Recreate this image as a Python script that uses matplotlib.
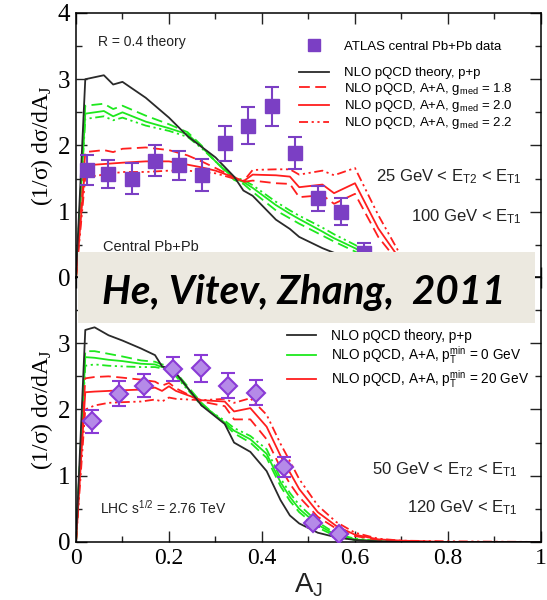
import numpy as np
import matplotlib
matplotlib.use('Agg')
import matplotlib.pyplot as plt
from matplotlib.patches import Rectangle
from matplotlib.lines import Line2D

plt.rcParams['font.family'] = ['Liberation Sans', 'DejaVu Sans']
plt.rcParams['mathtext.default'] = 'regular'

# ---- top panel: 25 GeV < ET2, 100 GeV < ET1 ----
x_top = [0, 0.02, 0.06, 0.08, 0.10, 0.15, 0.20, 0.24, 0.27, 0.30, 0.34, 0.36,
         0.38, 0.43, 0.46, 0.48, 0.53, 0.555, 0.60, 0.65, 0.70, 0.75, 0.80, 1.0]
pp_top = [0, 3.0, 3.06, 2.92, 2.96, 2.72, 2.42, 2.14, 1.98, 1.82, 1.53, 1.32,
          1.24, 0.88, 0.74, 0.62, 0.45, 0.38, 0.25, 0.12, 0.05, 0.02, 0.01, 0]
green18_top = [0, 2.60, 2.63, 2.55, 2.60, 2.45, 2.32, 2.20, 2.0, 1.76, 1.48, 1.42,
               1.30, 1.02, 0.90, 0.82, 0.64, 0.55, 0.40, 0.22, 0.10, 0.04, 0.01, 0]
green20_top = [0, 2.48, 2.52, 2.44, 2.50, 2.36, 2.26, 2.17, 1.98, 1.76, 1.50, 1.45,
               1.36, 1.10, 0.97, 0.89, 0.70, 0.60, 0.45, 0.25, 0.12, 0.05, 0.02, 0]
green22_top = [0, 2.40, 2.44, 2.38, 2.42, 2.30, 2.22, 2.13, 1.96, 1.76, 1.52, 1.48,
               1.40, 1.15, 1.02, 0.94, 0.76, 0.66, 0.50, 0.30, 0.15, 0.06, 0.02, 0]
red18_top = [0, 1.90, 1.93, 1.90, 1.95, 1.97, 1.93, 1.85, 1.76, 1.66, 1.52, 1.45,
             1.47, 1.43, 1.42, 1.22, 1.25, 1.12, 1.27, 0.62, 0.18, 0.06, 0.02, 0]
red20_top = [0, 1.70, 1.72, 1.73, 1.74, 1.76, 1.76, 1.71, 1.67, 1.62, 1.52, 1.46,
             1.56, 1.55, 1.53, 1.37, 1.41, 1.28, 1.43, 0.75, 0.25, 0.08, 0.02, 0]
red22_top = [0, 1.52, 1.56, 1.58, 1.60, 1.60, 1.62, 1.62, 1.60, 1.58, 1.50, 1.46,
             1.63, 1.64, 1.64, 1.56, 1.62, 1.55, 1.66, 0.95, 0.32, 0.12, 0.03, 0]

atlas_x_top = [0.024, 0.069, 0.121, 0.171, 0.221, 0.27, 0.32, 0.37, 0.421, 0.471, 0.52, 0.57, 0.62]
atlas_y_top = [1.63, 1.57, 1.50, 1.77, 1.70, 1.56, 2.03, 2.30, 2.59, 1.89, 1.20, 1.00, 0.38]
atlas_e_top = [0.22, 0.21, 0.23, 0.23, 0.22, 0.24, 0.27, 0.28, 0.29, 0.24, 0.19, 0.20, 0.15]

# ---- bottom panel: 50 GeV < ET2, 120 GeV < ET1 ----
x_bot = [0, 0.02, 0.04, 0.07, 0.10, 0.14, 0.17, 0.185, 0.20, 0.215, 0.27, 0.32, 0.34,
         0.375, 0.41, 0.44, 0.46, 0.48, 0.52, 0.56, 0.60, 0.65, 0.70, 0.80, 1.0]
pp_bot = [0, 3.2, 3.24, 3.12, 3.04, 2.92, 2.82, 2.65, 2.62, 2.55, 2.06, 1.78, 1.50,
          1.36, 1.07, 0.63, 0.40, 0.28, 0.14, 0.07, 0.03, 0.01, 0, 0, 0]
green18_bot = [0, 2.88, 2.88, 2.84, 2.80, 2.74, 2.72, 2.68, 2.66, 2.56, 2.10, 1.78, 1.64,
               1.50, 1.27, 0.84, 0.62, 0.45, 0.22, 0.08, 0.03, 0.01, 0, 0, 0]
green20_bot = [0, 2.79, 2.78, 2.75, 2.73, 2.69, 2.68, 2.64, 2.64, 2.52, 2.08, 1.80, 1.68,
               1.55, 1.33, 0.90, 0.68, 0.50, 0.26, 0.10, 0.04, 0.01, 0, 0, 0]
green22_bot = [0, 2.66, 2.68, 2.66, 2.65, 2.64, 2.64, 2.62, 2.62, 2.50, 2.06, 1.83, 1.72,
               1.60, 1.40, 0.96, 0.74, 0.56, 0.30, 0.12, 0.05, 0.02, 0, 0, 0]
red18_bot = [0, 2.47, 2.49, 2.50, 2.48, 2.45, 2.42, 2.36, 2.40, 2.32, 2.12, 2.05, 1.85,
             1.85, 1.55, 1.12, 0.88, 0.68, 0.38, 0.20, 0.09, 0.03, 0.01, 0, 0]
red20_bot = [0, 2.26, 2.27, 2.28, 2.29, 2.30, 2.33, 2.28, 2.35, 2.28, 2.14, 2.12, 1.97,
             2.02, 1.74, 1.30, 1.05, 0.80, 0.45, 0.24, 0.11, 0.04, 0.02, 0, 0]
red22_bot = [0, 2.00, 2.06, 2.10, 2.11, 2.12, 2.15, 2.12, 2.18, 2.16, 2.14, 2.16, 2.10,
             2.17, 1.92, 1.48, 1.22, 0.95, 0.55, 0.30, 0.14, 0.05, 0.02, 0.01, 0]

atlas_x_bot = [0.034, 0.093, 0.147, 0.208, 0.269, 0.327, 0.387, 0.447, 0.51, 0.566]
atlas_y_bot = [1.82, 2.24, 2.36, 2.61, 2.62, 2.36, 2.25, 1.13, 0.28, 0.12]
atlas_e_bot = [0.17, 0.19, 0.17, 0.18, 0.20, 0.19, 0.19, 0.15, 0.05, 0.04]

RED = '#ff1e1e'
GREEN = '#1ee81e'
BLACK = '#2a2a2a'
PURPLE = '#7b3fc4'
DASH = (0, (6, 3))
DASHDOT = (0, (5, 2, 1.2, 2, 1.2, 2))
serif = ['Liberation Serif', 'DejaVu Serif']

fig = plt.figure(figsize=(5.47, 6.0), dpi=100)
ax1 = fig.add_axes([0.1389, 0.5367, 0.8501, 0.4417])
ax2 = fig.add_axes([0.1389, 0.0967, 0.8501, 0.4417])


def style_axes(ax, show_x, ylabels):
    ax.set_xlim(0, 1)
    ax.set_ylim(0, 4)
    ax.set_xticks(np.arange(0, 1.01, 0.2))
    ax.set_xticks(np.arange(0, 1.01, 0.1), minor=True)
    ax.set_yticks([0, 1, 2, 3, 4])
    ax.set_yticks(np.arange(0, 4.01, 0.5), minor=True)
    ax.set_yticklabels(ylabels)
    ax.tick_params(which='both', direction='in', top=True, right=True, width=1.0, color='#222')
    ax.tick_params(which='major', length=8)
    ax.tick_params(which='minor', length=4.5)
    ax.tick_params(axis='y', labelsize=18, pad=4)
    ax.tick_params(axis='x', labelsize=17, pad=4)
    ax.set_xticklabels(['0', '0.2', '0.4', '0.6', '0.8', '1'] if show_x else [])
    for lab in ax.get_xticklabels() + ax.get_yticklabels():
        lab.set_family(serif)
    for s in ax.spines.values():
        s.set_linewidth(1.1)
    ax.set_ylabel(r'(1/σ) dσ/dA$_J$', family=serif, fontsize=17, labelpad=2)


def draw_theory(ax, x, pp, g18, g20, g22, r18, r20, r22):
    lw = 1.3
    ax.plot(x, g18, color=GREEN, lw=lw, ls=DASH)
    ax.plot(x, g20, color=GREEN, lw=lw)
    ax.plot(x, g22, color=GREEN, lw=lw, ls=DASHDOT)
    ax.plot(x, r18, color=RED, lw=lw, ls=DASH)
    ax.plot(x, r20, color=RED, lw=lw)
    ax.plot(x, r22, color=RED, lw=lw, ls=DASHDOT)
    ax.plot(x, pp, color=BLACK, lw=lw)


# top panel
draw_theory(ax1, x_top, pp_top, green18_top, green20_top, green22_top,
            red18_top, red20_top, red22_top)
ax1.errorbar(atlas_x_top, atlas_y_top, yerr=atlas_e_top, fmt='s', ms=9.5,
             mfc=PURPLE, mec=PURPLE, ecolor=PURPLE, elinewidth=1.5,
             capsize=5, capthick=1.5, zorder=5)
style_axes(ax1, False, ['0', '1', '2', '3', '4'])

txt = dict(fontsize=10, color='#222')
ax1.text(0.047, 0.89, 'R = 0.4 theory', va='center', ha='left', transform=ax1.transAxes, **txt)
ax1.text(0.058, 0.117, 'Central Pb+Pb', va='center', ha='left', transform=ax1.transAxes,
         fontsize=10.5, color='#222')
ax1.text(0.959, 0.381, '25 GeV < E$_{T2}$ < E$_{T1}$', va='center', ha='right',
         transform=ax1.transAxes, fontsize=12, color='#222')
ax1.text(0.959, 0.23, '100 GeV < E$_{T1}$', va='center', ha='right',
         transform=ax1.transAxes, fontsize=12, color='#222')

h_data = [Line2D([], [], ls='none', marker='s', ms=8, mfc=PURPLE, mec=PURPLE)]
leg1 = ax1.legend(h_data, ['ATLAS central Pb+Pb data'], loc='upper left',
                  bbox_to_anchor=(0.465, 0.92), frameon=False, fontsize=9.5,
                  handlelength=2.3, handletextpad=1.1, borderpad=0)
ax1.add_artist(leg1)
h_lines = [Line2D([], [], color=BLACK, lw=1.3),
           Line2D([], [], color=RED, lw=1.3, ls=DASH),
           Line2D([], [], color=RED, lw=1.3),
           Line2D([], [], color=RED, lw=1.3, ls=DASHDOT)]
ax1.legend(h_lines, ['NLO pQCD theory, p+p',
                     'NLO pQCD, A+A, g$_{med}$ = 1.8',
                     'NLO pQCD, A+A, g$_{med}$ = 2.0',
                     'NLO pQCD, A+A, g$_{med}$ = 2.2'],
           loc='upper left', bbox_to_anchor=(0.465, 0.82), frameon=False,
           fontsize=9.5, handlelength=2.3, handletextpad=1.1, borderpad=0,
           labelspacing=0.1)

# bottom panel
draw_theory(ax2, x_bot, pp_bot, green18_bot, green20_bot, green22_bot,
            red18_bot, red20_bot, red22_bot)
ax2.errorbar(atlas_x_bot, atlas_y_bot, yerr=atlas_e_bot, fmt='D', ms=9,
             mfc='#b58ae8', mec='#8a3ad6', mew=1.5, ecolor='#8a3ad6', elinewidth=1.5,
             capsize=5, capthick=1.5, zorder=5)
style_axes(ax2, True, ['0', '1', '2', '3', ''])
ax2.set_xlabel('A$_J$', fontsize=20, labelpad=2, color='#222')

ax2.text(0.052, 0.128, 'LHC s$^{1/2}$ = 2.76 TeV', va='center', ha='left',
         transform=ax2.transAxes, **txt)
ax2.text(0.95, 0.272, '50 GeV < E$_{T2}$ < E$_{T1}$', va='center', ha='right',
         transform=ax2.transAxes, fontsize=12, color='#222')
ax2.text(0.95, 0.128, '120 GeV < E$_{T1}$', va='center', ha='right',
         transform=ax2.transAxes, fontsize=12, color='#222')

h_bot = [Line2D([], [], color=BLACK, lw=1.3),
         Line2D([], [], color=GREEN, lw=1.3),
         Line2D([], [], color=RED, lw=1.3)]
ax2.legend(h_bot, ['NLO pQCD theory, p+p',
                   'NLO pQCD, A+A, p$_T^{min}$ = 0 GeV',
                   'NLO pQCD, A+A, p$_T^{min}$ = 20 GeV'],
           loc='upper left', bbox_to_anchor=(0.44, 0.83), frameon=False,
           fontsize=9.8, handlelength=2.1, handletextpad=1.1, borderpad=0,
           labelspacing=0.12)

# overlay banner
fig.patches.append(Rectangle((0.1426, 0.4617), 0.8355, 0.1183, transform=fig.transFigure,
                             facecolor='#ece9e0', edgecolor='none', zorder=10))
fig.text(0.556, 0.512, 'He, Vitev, Zhang,  2011', ha='center', va='center',
         family=['Lato', 'DejaVu Sans'], weight='bold', style='italic',
         fontsize=29, color='black', zorder=11)

fig.savefig('out.png', dpi=100)
